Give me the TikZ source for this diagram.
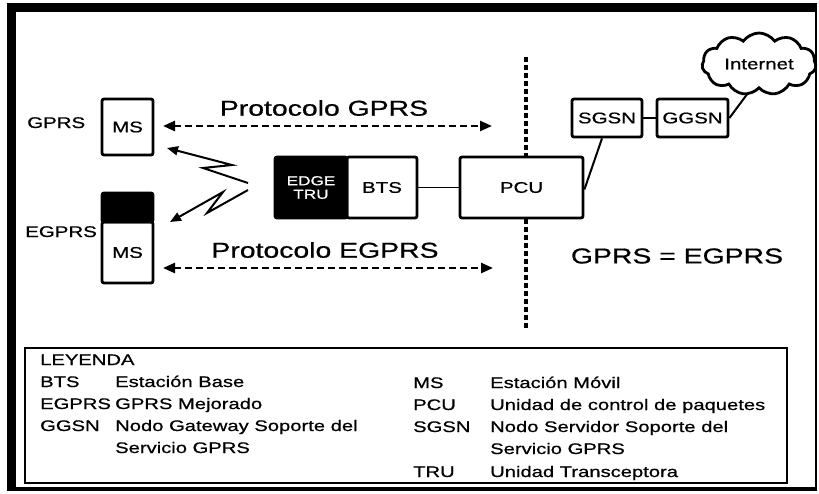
\documentclass[tikz,border=0pt]{standalone}
\usepackage{fontspec}
\setmainfont{Liberation Sans}[FakeStretch=1.32,FakeBold=0.7]
\usetikzlibrary{arrows.meta,shapes.symbols}
\begin{document}
\begin{tikzpicture}[x=1pt,y=-1pt,
  box/.style={draw,line width=2.8pt,rounded corners=2pt,inner sep=0pt,font=\fontsize{15.5}{18}\selectfont},
  blackbox/.style={fill=black,draw=black,line width=2.8pt,rounded corners=2pt,inner sep=0pt},
  lbl/.style={anchor=base west,inner sep=0pt,font=\fontsize{15.5}{18}\selectfont},
  big/.style={inner sep=0pt,font=\fontsize{21.5}{24}\selectfont},
  leg/.style={anchor=base west,inner sep=0pt,font=\fontsize{15.3}{18}\selectfont},
  proto/.style={line width=2.5pt,dash pattern=on 7pt off 4pt,{Triangle[length=12pt,width=10pt]}-{Triangle[length=12pt,width=10pt]}},
  bolt/.style={line width=2pt,-{Triangle[length=11pt,width=9pt]}},
  vdots/.style={line width=3.5pt,dash pattern=on 5pt off 3pt},
  thinline/.style={line width=1.3pt},
  medline/.style={line width=2pt}]
\useasboundingbox (0,0) rectangle (819,493);
% outer frame
\fill[black] (7,3) rectangle (817,12);
\fill[black] (7,3) rectangle (16,491);
\fill[black] (7,487) rectangle (817,491);
\draw[line width=2pt] (816,3) -- (816,491);

% mobile stations
\node[lbl] (lgprs) at (27,128) {GPRS};
\node[lbl] (legprs) at (25,237) {EGPRS};
\node[box,minimum width=51pt,minimum height=56pt] (ms1) at (127.5,127) {MS};
\node[blackbox,minimum width=51pt,minimum height=29pt] (ms2top) at (127.5,207.5) {};
\node[box,minimum width=51pt,minimum height=61pt] (ms2) at (127.5,252.5) {MS};

% protocols
\node[big] (pg) at (324,108) {Protocolo GPRS};
\node[big] (peg) at (325,250) {Protocolo EGPRS};
\coordinate (pgl) at (163,126);
\coordinate (pgr) at (492,126);
\coordinate (pel) at (163,268);
\coordinate (per) at (493,268);
\draw[proto] (pgl) -- (pgr);
\draw[proto] (pel) -- (per);

% BTS / EDGE TRU
\node[blackbox,minimum width=72pt,minimum height=61pt,text=white,align=center,font=\fontsize{13}{13.5}\selectfont] (tru) at (311,187.5) {EDGE\\TRU};
\node[box,minimum width=70pt,minimum height=61pt] (bts) at (382,187.5) {BTS};

% lightning bolts
\coordinate (u1) at (248,183);
\coordinate (u2) at (203,168);
\coordinate (u3) at (232,165);
\coordinate (ut) at (167,148);
\coordinate (l1) at (248,190);
\coordinate (l2) at (207,213);
\coordinate (l3) at (223,192);
\coordinate (lt) at (170,222);
\draw[bolt] (u1) -- (u2) -- (u3) -- (ut);
\draw[bolt] (l1) -- (l2) -- (l3) -- (lt);

% PCU
\node[box,minimum width=123pt,minimum height=61pt] (pcu) at (521.5,187.5) {PCU};
\draw[thinline] (bts.east) -- (pcu.west);
\coordinate (vtop) at (526,57);
\coordinate (vbot) at (526,330);
\draw[vdots] (vtop) -- (vtop |- pcu.north);
\draw[vdots] (vtop |- pcu.south) -- (vbot);

% core
\node[box,minimum width=70pt,minimum height=38pt] (sgsn) at (607,118) {SGSN};
\node[box,minimum width=71pt,minimum height=38pt] (ggsn) at (692.5,118) {GGSN};
\draw[medline] (sgsn.east) -- (ggsn.west);
\draw[medline] ([yshift=-2pt]pcu.east) -- ([xshift=-5pt]sgsn.south);
\node[cloud,draw,line width=2.8pt,cloud puffs=11,cloud puff arc=110,aspect=2,minimum width=114pt,minimum height=62pt,inner sep=0pt,font=\fontsize{15.5}{18}\selectfont] (inet) at (759,64) {Internet};
\coordinate (tail) at (748,93);
\draw[medline] (ggsn.east) -- (tail);

\node[big] (eq) at (677,256) {GPRS = EGPRS};

% legend
\node[draw,line width=2.5pt,minimum width=762pt,minimum height=135pt,inner sep=0pt] (legend) at (406,415.5) {};
\node[leg] (t0) at (40,365) {LEYENDA};
\node[leg] (a1) at (40,387) {BTS};
\node[leg] (d1) at (115,387) {Estación Base};
\node[leg] (a2) at (40,409) {EGPRS};
\node[leg] (d2) at (115,409) {GPRS Mejorado};
\node[leg] (a3) at (40,431) {GGSN};
\node[leg] (d3) at (115,431) {Nodo Gateway Soporte del};
\node[leg] (d3b) at (115,453) {Servicio GPRS};
\node[leg] (b1) at (413,388) {MS};
\node[leg] (e1) at (490,388) {Estación Móvil};
\node[leg] (b2) at (413,410) {PCU};
\node[leg] (e2) at (490,410) {Unidad de control de paquetes};
\node[leg] (b3) at (413,432) {SGSN};
\node[leg] (e3) at (490,432) {Nodo Servidor Soporte del};
\node[leg] (e3b) at (490,454) {Servicio GPRS};
\node[leg] (b4) at (413,477) {TRU};
\node[leg] (e4) at (490,477) {Unidad Transceptora};
\end{tikzpicture}
\end{document}
